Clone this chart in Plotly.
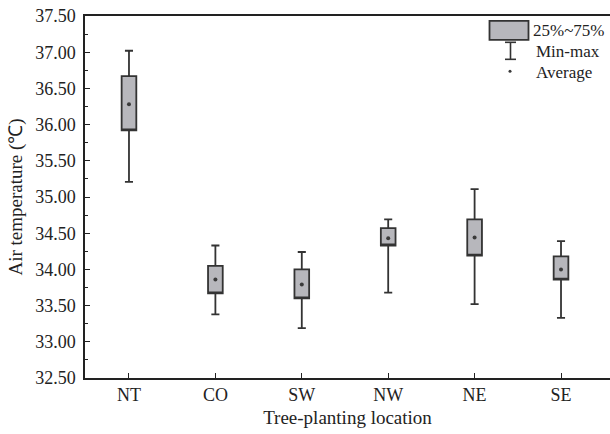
import plotly.graph_objects as go

categories = ["NT", "CO", "SW", "NW", "NE", "SE"]
t_min = [35.21, 33.38, 33.19, 33.68, 33.52, 33.33]
t_q1 = [35.92, 33.67, 33.60, 34.33, 34.19, 33.86]
t_mean = [36.28, 33.86, 33.79, 34.43, 34.44, 34.00]
t_q3 = [36.67, 34.05, 34.00, 34.57, 34.69, 34.18]
t_max = [37.02, 34.33, 34.24, 34.69, 35.11, 34.39]
y_ticks = [32.5 + 0.5 * i for i in range(11)]

FONT = "Liberation Serif, Times New Roman, serif"
INK = "#222222"

fig = go.Figure()
fig.add_trace(go.Box(
    x=categories, q1=t_q1, median=t_q1, q3=t_q3,
    lowerfence=t_min, upperfence=t_max,
    boxpoints=False, width=0.17, whiskerwidth=0.55,
    fillcolor="#b7b7bc", line=dict(color="#333333", width=1.8),
    showlegend=False, hoverinfo="skip",
))
fig.add_trace(go.Scatter(
    x=categories, y=t_mean, mode="markers",
    marker=dict(size=4, color="#3a3a3a"), showlegend=False,
))

# manual legend (paper coords relative to plot area)
L, R, T, B = 85, 610, 15.7, 377.5
def px(x):
    return (x - L) / (R - L)
def py(y):
    return (B - y) / (B - T)

shapes = [
    dict(type="rect", xref="paper", yref="paper",
         x0=px(489.5), x1=px(528.5), y0=py(39.5), y1=py(20.5),
         fillcolor="#b7b7bc", line=dict(color="#333333", width=1.8)),
    dict(type="line", xref="paper", yref="paper",
         x0=px(510.5), x1=px(510.5), y0=py(59), y1=py(42),
         line=dict(color="#333333", width=1.6)),
    dict(type="line", xref="paper", yref="paper",
         x0=px(505), x1=px(516), y0=py(42), y1=py(42),
         line=dict(color="#333333", width=1.6)),
    dict(type="line", xref="paper", yref="paper",
         x0=px(505), x1=px(516), y0=py(59), y1=py(59),
         line=dict(color="#333333", width=1.6)),
    dict(type="circle", xref="paper", yref="paper",
         x0=px(508.5), x1=px(511.5), y0=py(72.5), y1=py(69.5),
         fillcolor="#3a3a3a", line=dict(width=0)),
]
annotations = [
    dict(text="25%~75%", x=px(531), y=py(30), xref="paper", yref="paper",
         xanchor="left", yanchor="middle", showarrow=False,
         font=dict(family=FONT, size=17, color=INK)),
    dict(text="Min-max", x=px(534), y=py(51), xref="paper", yref="paper",
         xanchor="left", yanchor="middle", showarrow=False,
         font=dict(family=FONT, size=17, color=INK)),
    dict(text="Average", x=px(534), y=py(72), xref="paper", yref="paper",
         xanchor="left", yanchor="middle", showarrow=False,
         font=dict(family=FONT, size=17, color=INK)),
]

fig.update_layout(
    width=610, height=434,
    margin=dict(l=85, r=0, t=16, b=56),
    paper_bgcolor="white", plot_bgcolor="white",
    font=dict(family=FONT, size=18, color=INK),
    shapes=shapes, annotations=annotations,
    showlegend=False,
)
fig.update_xaxes(
    range=[-0.509, 5.567], type="category",
    showline=True, linecolor=INK, linewidth=1.5, mirror=True,
    ticks="inside", ticklen=5, tickcolor=INK, tickwidth=1.2,
    showgrid=False, zeroline=False,
    title=dict(text="Tree-planting location", standoff=6,
               font=dict(family=FONT, size=19)),
    tickfont=dict(family=FONT, size=18),
)
fig.update_yaxes(
    range=[32.5, 37.5], tickvals=y_ticks, tickformat=".2f",
    showline=True, linecolor=INK, linewidth=1.5,
    ticks="inside", ticklen=5, tickcolor=INK, tickwidth=1.2,
    minor=dict(dtick=0.25, ticks="inside", ticklen=3, tickcolor=INK, tickwidth=1),
    showgrid=False, zeroline=False, ticklabelstandoff=4,
    title=dict(text="Air temperature (℃)", standoff=8,
               font=dict(family=FONT, size=19)),
    tickfont=dict(family=FONT, size=18),
)

fig.write_html("out.html")
